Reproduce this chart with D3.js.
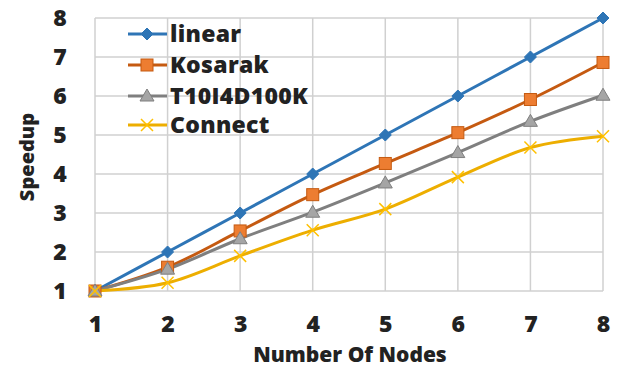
<!DOCTYPE html>
<html><head><meta charset="utf-8">
<script src="https://cdn.jsdelivr.net/npm/d3@7"></script>
<style>body{margin:0;background:#fff}svg{display:block}text{font-family:"Open Sans",sans-serif;font-weight:800;fill:#222}</style>
</head><body>
<svg id="c" width="621" height="367"></svg>
<script>
const nodes = [1,2,3,4,5,6,7,8];
const linear = [1,2,3,4,5,6,7,8];
const kosarak = [1,1.61,2.54,3.47,4.27,5.06,5.91,6.86];
const t10 = [1,1.56,2.34,3.02,3.77,4.55,5.35,6.02];
const connect = [1,1.21,1.9,2.56,3.1,3.92,4.68,4.97];
const yTicks = [1,2,3,4,5,6,7,8];
const series = [
  {name:"linear", values:linear, color:"#2E75B6", fill:"#2E75B6", shape:"diamond"},
  {name:"Kosarak", values:kosarak, color:"#C55A11", fill:"#ED7D31", shape:"square"},
  {name:"T10I4D100K", values:t10, color:"#7F7F7F", fill:"#A5A5A5", shape:"triangle"},
  {name:"Connect", values:connect, color:"#EDAE00", fill:"#FFC000", shape:"x"}
];
const svg = d3.select("#c");
const x = d3.scaleLinear().domain([1,8]).range([95,603]);
const y = d3.scaleLinear().domain([1,8]).range([291,18]);
svg.append("g").selectAll("line").data(yTicks).join("line")
  .attr("x1",x(1)).attr("x2",x(8)).attr("y1",d=>y(d)).attr("y2",d=>y(d))
  .attr("stroke","#D0D0D0").attr("stroke-width",1.5);
svg.append("g").selectAll("line").data(nodes).join("line")
  .attr("y1",y(1)).attr("y2",y(8)).attr("x1",d=>x(d)).attr("x2",d=>x(d))
  .attr("stroke","#D0D0D0").attr("stroke-width",1.5);
const ya = svg.append("g").attr("transform","translate(95,0)")
  .call(d3.axisLeft(y).tickValues(yTicks).tickFormat(d3.format("d")).tickSize(0).tickPadding(28));
const xa = svg.append("g").attr("transform","translate(0,291)")
  .call(d3.axisBottom(x).tickValues(nodes).tickFormat(d3.format("d")).tickSize(0).tickPadding(25));
[ya,xa].forEach(a=>{a.select(".domain").remove();a.selectAll("text").attr("font-size",23).attr("font-family","Open Sans").attr("font-weight",800).attr("fill","#222");});
ya.selectAll("text").attr("text-anchor","middle").attr("dx","-0.3em");
svg.append("text").attr("transform","translate(34,157) rotate(-90)").attr("text-anchor","middle").attr("font-size",20).text("Speedup");
svg.append("text").attr("x",350).attr("y",362).attr("text-anchor","middle").attr("font-size",21).text("Number Of Nodes");
const line = d3.line().x((d,i)=>x(nodes[i])).y(d=>y(d)).curve(d3.curveCatmullRom.alpha(0.5));
function marker(g, s, cx, cy){
  if(s.shape==="diamond") g.append("path").attr("d",`M${cx},${cy-6}L${cx+6},${cy}L${cx},${cy+6}L${cx-6},${cy}Z`).attr("fill",s.fill).attr("stroke",s.color);
  else if(s.shape==="square") g.append("rect").attr("x",cx-6).attr("y",cy-6).attr("width",12).attr("height",12).attr("fill",s.fill).attr("stroke",s.color).attr("stroke-width",1);
  else if(s.shape==="triangle") g.append("path").attr("d",`M${cx},${cy-7}L${cx+7},${cy+5}L${cx-7},${cy+5}Z`).attr("fill",s.fill).attr("stroke",s.color);
  else g.append("path").attr("d",`M${cx-6},${cy-6}L${cx+6},${cy+6}M${cx-6},${cy+6}L${cx+6},${cy-6}`).attr("stroke",s.fill).attr("stroke-width",1.5);
}
series.forEach(s=>{
  svg.append("path").attr("d",line(s.values)).attr("fill","none").attr("stroke",s.color).attr("stroke-width",3);
});
series.forEach(s=>{
  const g = svg.append("g");
  s.values.forEach((v,i)=>marker(g,s,x(nodes[i]),y(v)));
});
const ly = [34,65,96,125];
series.forEach((s,i)=>{
  const g = svg.append("g");
  g.append("line").attr("x1",128).attr("x2",167).attr("y1",ly[i]).attr("y2",ly[i]).attr("stroke",s.color).attr("stroke-width",3);
  marker(g,s,147,ly[i]);
  g.append("text").attr("x",170).attr("y",ly[i]).attr("dy","0.36em").attr("font-size",23).attr("letter-spacing","0.3px").text(s.name);
});
</script>
</body></html>
